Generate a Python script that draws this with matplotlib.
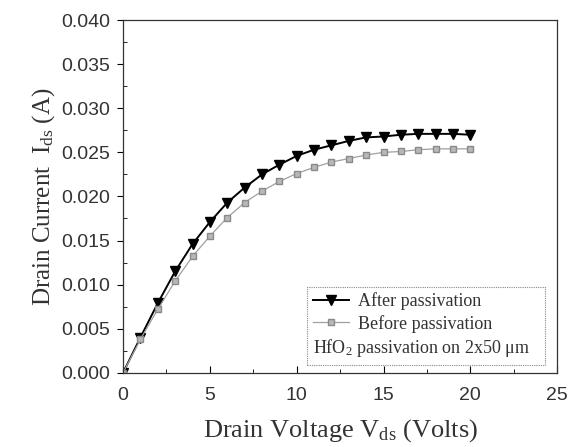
import numpy as np
import matplotlib.pyplot as plt
from matplotlib.patches import Rectangle
from matplotlib.lines import Line2D
from matplotlib.ticker import MultipleLocator

# Drain voltage (V)
vds = [0, 1, 2, 3, 4, 5, 6, 7, 8, 9, 10, 11, 12, 13, 14, 15, 16, 17, 18, 19, 20]
# Drain current (A) after HfO2 passivation
ids_after = [0.0, 0.0040, 0.0079, 0.0115, 0.0146, 0.0171, 0.0193, 0.0210, 0.0225,
             0.0236, 0.0246, 0.0253, 0.0258, 0.0263, 0.0267, 0.0268, 0.0270,
             0.0271, 0.0271, 0.0271, 0.0270]
# Drain current (A) before passivation
ids_before = [0.0, 0.0038, 0.0072, 0.0104, 0.0132, 0.0155, 0.0176, 0.0193, 0.0206,
              0.0217, 0.0226, 0.0233, 0.0239, 0.0243, 0.0247, 0.0250, 0.0251,
              0.0253, 0.0254, 0.0254, 0.0254]

serif = ["Liberation Serif", "DejaVu Serif"]
sans = ["Liberation Sans", "DejaVu Sans"]
plt.rcParams["font.family"] = sans
plt.rcParams["mathtext.fontset"] = "custom"
plt.rcParams["mathtext.rm"] = "Liberation Serif"
plt.rcParams["mathtext.it"] = "Liberation Serif"

fig = plt.figure(figsize=(5.75, 4.47), dpi=100)
ax = fig.add_axes([0.214, 0.166, 0.755, 0.789])

ax.plot(vds, ids_after, color="black", lw=1.4, marker="v", ms=6.5,
        markerfacecolor="black", markeredgecolor="black")
ax.plot(vds, ids_before, color="#a0a0a0", lw=0.9, marker="s", ms=4.5,
        markerfacecolor="#b8b8b8", markeredgecolor="#8a8a8a")

ax.set_xlim(0, 25)
ax.set_ylim(0, 0.040)
ax.xaxis.set_major_locator(MultipleLocator(5))
ax.xaxis.set_minor_locator(MultipleLocator(2.5))
ax.yaxis.set_major_locator(MultipleLocator(0.005))
ax.yaxis.set_minor_locator(MultipleLocator(0.0025))
ax.yaxis.set_major_formatter(plt.FormatStrFormatter("%.3f"))

ax.tick_params(axis="x", which="both", direction="in", labelsize=14, pad=10)
ax.tick_params(axis="x", which="major", length=5)
ax.tick_params(axis="x", which="minor", length=3)
ax.tick_params(axis="y", which="major", direction="out", length=4, labelsize=14, pad=5)
ax.tick_params(axis="y", which="minor", direction="in", length=3)
for s in ax.spines.values():
    s.set_linewidth(0.9)
    s.set_color("#333333")
for lab in ax.get_xticklabels() + ax.get_yticklabels():
    lab.set_color("#333333")

ax.set_xlabel("Drain Voltage V$_{\\rm ds}$ (Volts)", family=serif, fontsize=19,
              color="#333333", labelpad=10)
ax.set_ylabel("Drain Current  I$_{\\rm ds}$ (A)", family=serif, fontsize=18,
              color="#333333", labelpad=3)

# legend box
ax.add_patch(Rectangle((0.424, 0.023), 0.548, 0.221, transform=ax.transAxes,
                       fill=False, edgecolor="#888888", lw=0.8, ls=(0, (1, 1))))
h1 = Line2D([], [], color="black", lw=1.4, marker="v", ms=6.5)
h2 = Line2D([], [], color="#a0a0a0", lw=0.9, marker="s", ms=4.5,
            markerfacecolor="#b8b8b8", markeredgecolor="#8a8a8a")
leg = ax.legend([h1, h2], ["After passivation", "Before passivation"],
                loc="upper left", bbox_to_anchor=(0.43, 0.238), frameon=False,
                prop={"family": serif, "size": 13}, handlelength=2.0,
                handletextpad=0.45, labelspacing=0.25, borderaxespad=0, borderpad=0.2)
for t in leg.get_texts():
    t.set_color("#333333")
ax.text(0.437, 0.071, "HfO$_2$ passivation on 2x50 \u03bcm", transform=ax.transAxes,
        family=serif, fontsize=13, color="#333333", va="center")

fig.savefig("out.png", dpi=100)
